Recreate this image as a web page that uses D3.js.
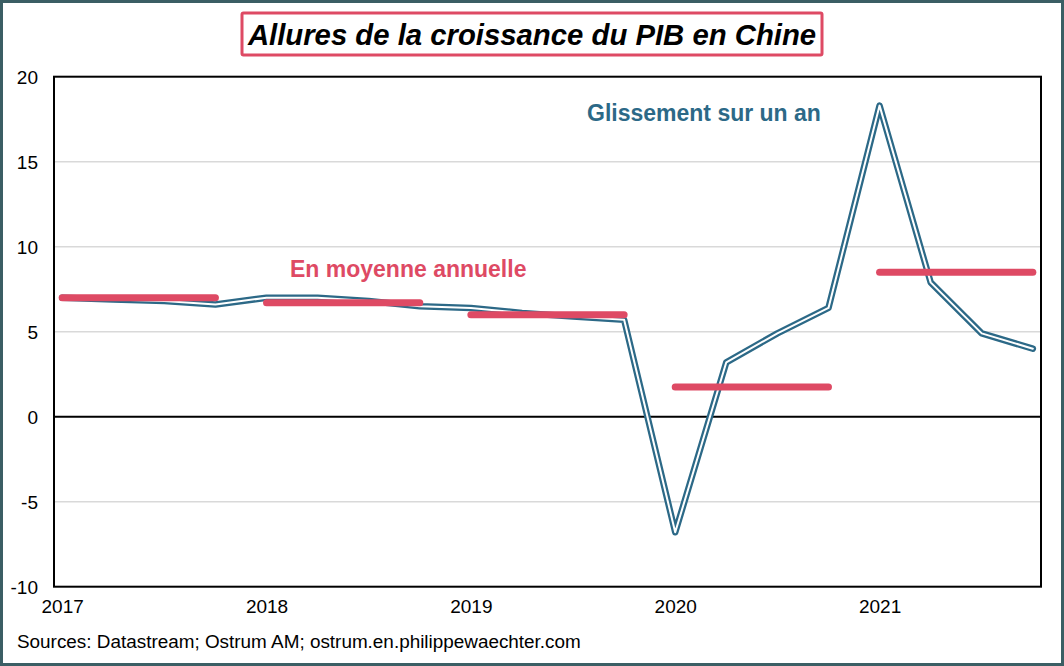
<!DOCTYPE html>
<html>
<head>
<meta charset="utf-8">
<script src="https://cdn.jsdelivr.net/npm/d3@7"></script>
<style>
  html, body { margin: 0; padding: 0; background: #fff; }
  svg { display: block; font-family: "Liberation Sans", Arial, sans-serif; }
</style>
</head>
<body>
<svg id="chart" width="1064" height="666"></svg>
<script>
// ---- Data ----
const quarters = [
  "2017Q1","2017Q2","2017Q3","2017Q4",
  "2018Q1","2018Q2","2018Q3","2018Q4",
  "2019Q1","2019Q2","2019Q3","2019Q4",
  "2020Q1","2020Q2","2020Q3","2020Q4",
  "2021Q1","2021Q2","2021Q3","2021Q4"
];
const yoyGrowth = [
  7.0, 6.9, 6.8, 6.6,
  7.0, 7.0, 6.8, 6.5,
  6.4, 6.1, 5.9, 5.7,
  -6.8, 3.2, 4.9, 6.4,
  18.3, 7.9, 4.9, 4.0
];
const years = ["2017","2018","2019","2020","2021"];
const annualAverage = [7.0, 6.7, 6.0, 1.75, 8.5];
const yTicks = [-10, -5, 0, 5, 10, 15, 20];

const titleText = "Allures de la croissance du PIB en Chine";
const sourceText = "Sources: Datastream; Ostrum AM; ostrum.en.philippewaechter.com";
const labelYoY = "Glissement sur un an";
const labelAvg = "En moyenne annuelle";

// ---- Layout ----
const W = 1064, H = 666;
const plot = { left: 54, right: 1041, top: 76.7, bottom: 586.7 };
const blue = "#2C6987";
const pink = "#DE4A64";
const FONT = "'Liberation Sans', Arial, sans-serif";

const svg = d3.select("#chart");

// outer frame
svg.append("rect").attr("x", 1.5).attr("y", 1.5).attr("width", W - 3).attr("height", H - 3)
  .attr("fill", "#fff").attr("stroke", "#3B5E64").attr("stroke-width", 3);

const x = d3.scalePoint().domain(quarters).range([plot.left, plot.right]).padding(0.16);
const y = d3.scaleLinear().domain([-10, 20]).range([plot.bottom, plot.top]);

// gridlines
svg.append("g").selectAll("line").data(yTicks.filter(t => t !== 0 && t !== 20 && t !== -10)).join("line")
  .attr("x1", plot.left).attr("x2", plot.right)
  .attr("y1", d => y(d)).attr("y2", d => y(d))
  .attr("stroke", "#d9d9d9").attr("stroke-width", 1.5);

// zero line
svg.append("line").attr("x1", plot.left).attr("x2", plot.right)
  .attr("y1", y(0)).attr("y2", y(0)).attr("stroke", "#000").attr("stroke-width", 2);

// y axis labels
const yAxis = d3.axisLeft(y).tickValues(yTicks).tickSize(0).tickPadding(0).tickFormat(d => String(d));
const gy = svg.append("g").attr("transform", `translate(${plot.left - 16},0)`).call(yAxis);
gy.select(".domain").remove();
gy.selectAll("text").attr("font-size", 19).attr("fill", "#000")
  .attr("font-family", FONT).attr("dy", "0.36em");

// x axis labels (at Q1 of each year)
const xAxis = d3.axisBottom(x).tickValues(years.map(yv => yv + "Q1")).tickSize(0).tickPadding(0)
  .tickFormat(d => d.slice(0, 4));
const gx = svg.append("g").attr("transform", `translate(0,${plot.bottom + 13})`).call(xAxis);
gx.select(".domain").remove();
gx.selectAll("text").attr("font-size", 19).attr("fill", "#000")
  .attr("font-family", FONT).attr("dy", "0.71em");

// blue double line
const line = d3.line().x((d, i) => x(quarters[i])).y(d => y(d));
svg.append("path").datum(yoyGrowth).attr("d", line)
  .attr("fill", "none").attr("stroke", blue).attr("stroke-width", 6.5)
  .attr("stroke-linejoin", "round").attr("stroke-linecap", "round");
svg.append("path").datum(yoyGrowth).attr("d", line)
  .attr("fill", "none").attr("stroke", "#fff").attr("stroke-width", 2)
  .attr("stroke-linejoin", "round").attr("stroke-linecap", "round");

// pink annual averages
svg.append("g").selectAll("line").data(years).join("line")
  .attr("x1", d => x(d + "Q1")).attr("x2", d => x(d + "Q4"))
  .attr("y1", (d, i) => y(annualAverage[i])).attr("y2", (d, i) => y(annualAverage[i]))
  .attr("stroke", pink).attr("stroke-width", 7).attr("stroke-linecap", "round");

// plot frame
svg.append("rect").attr("x", plot.left).attr("y", plot.top)
  .attr("width", plot.right - plot.left).attr("height", plot.bottom - plot.top)
  .attr("fill", "none").attr("stroke", "#000").attr("stroke-width", 2);

// annotations
svg.append("text").attr("x", 587).attr("y", 121).text(labelYoY)
  .attr("font-size", 23).attr("font-weight", "bold").attr("fill", blue);
svg.append("text").attr("x", 290).attr("y", 277).text(labelAvg)
  .attr("font-size", 23).attr("font-weight", "bold").attr("fill", pink);

// title box
svg.append("rect").attr("x", 242).attr("y", 13).attr("width", 580).attr("height", 42)
  .attr("fill", "#fff").attr("stroke", pink).attr("stroke-width", 3).attr("rx", 1.5);
svg.append("text").attr("x", 532).attr("y", 45).attr("text-anchor", "middle").text(titleText)
  .attr("font-size", 29.3).attr("font-weight", "bold").attr("font-style", "italic").attr("fill", "#000");

// source
svg.append("text").attr("x", 17).attr("y", 648).text(sourceText)
  .attr("font-size", 18.9).attr("fill", "#000");
</script>
</body>
</html>
